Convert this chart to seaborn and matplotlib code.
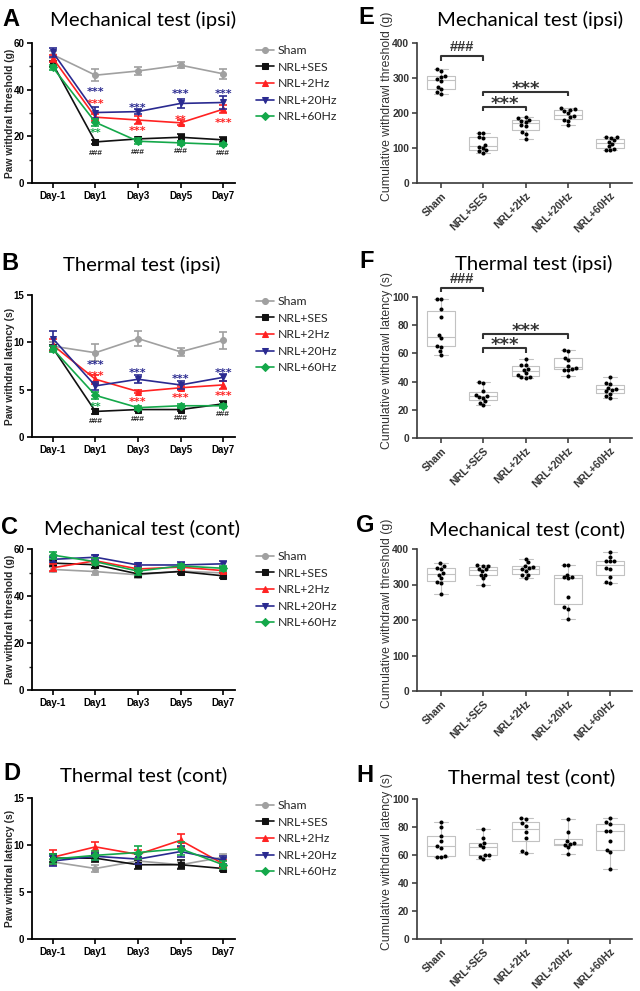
import numpy as np
import pandas as pd
import matplotlib
matplotlib.use("Agg")
import matplotlib.pyplot as plt
import seaborn as sns
from matplotlib.ticker import MultipleLocator

sns.set_style("ticks")
plt.rcParams['font.family'] = ['Liberation Sans', 'DejaVu Sans']

days = ["Day-1", "Day1", "Day3", "Day5", "Day7"]
groups = ["Sham", "NRL+SES", "NRL+2Hz", "NRL+20Hz", "NRL+60Hz"]
colors = ["#a0a0a0", "#111111", "#ff2222", "#2a2a90", "#14a84a"]
markers = ["o", "s", "^", "v", "D"]

# time course, mean and sem per group (A-D)
mech_ipsi_mean = [[55.0, 46.2, 48.0, 50.5, 46.8],
                  [51.0, 17.6, 18.9, 19.6, 18.5],
                  [53.5, 28.2, 27.0, 25.8, 31.6],
                  [56.0, 30.2, 30.6, 34.1, 34.5],
                  [49.5, 26.0, 17.9, 17.2, 16.5]]
mech_ipsi_sem = [[1.5, 2.6, 1.7, 1.4, 2.2],
                 [1.2, 0.8, 1.0, 1.5, 1.0],
                 [1.5, 1.5, 1.8, 1.0, 1.8],
                 [2.0, 2.2, 1.0, 1.8, 2.8],
                 [1.0, 1.5, 1.2, 0.8, 0.8]]
therm_ipsi_mean = [[9.6, 8.9, 10.4, 9.0, 10.2],
                   [9.4, 2.7, 2.9, 2.9, 3.5],
                   [9.7, 6.1, 4.8, 5.2, 5.5],
                   [10.4, 5.4, 6.1, 5.5, 6.3],
                   [9.3, 4.4, 3.1, 3.3, 3.3]]
therm_ipsi_sem = [[0.4, 0.9, 0.8, 0.45, 0.9],
                  [0.3, 0.3, 0.2, 0.2, 0.3],
                  [0.6, 0.5, 0.2, 0.2, 0.4],
                  [0.8, 0.4, 0.4, 0.4, 0.4],
                  [0.3, 0.4, 0.2, 0.2, 0.2]]
mech_cont_mean = [[51.3, 50.4, 49.0, 50.6, 49.8],
                  [54.0, 53.3, 49.4, 50.4, 48.6],
                  [52.0, 55.0, 51.5, 52.3, 50.8],
                  [55.6, 56.5, 53.2, 53.2, 53.7],
                  [57.4, 54.6, 50.6, 52.8, 51.8]]
mech_cont_sem = [[1.2, 1.5, 1.5, 1.0, 1.2],
                 [1.2, 1.5, 1.5, 1.0, 1.0],
                 [1.5, 1.2, 1.2, 1.0, 1.2],
                 [1.2, 1.0, 1.0, 1.2, 1.2],
                 [1.5, 1.5, 1.5, 1.0, 1.0]]
therm_cont_mean = [[8.2, 7.5, 8.3, 7.9, 8.7],
                   [8.6, 8.6, 7.9, 7.9, 7.5],
                   [8.7, 9.8, 9.0, 10.5, 8.0],
                   [8.3, 8.8, 8.5, 9.3, 8.4],
                   [8.5, 8.9, 9.2, 9.6, 7.9]]
therm_cont_sem = [[0.3, 0.4, 0.3, 0.3, 0.3],
                  [0.4, 0.4, 0.5, 0.5, 0.3],
                  [0.8, 0.5, 0.5, 0.7, 0.4],
                  [0.5, 0.4, 0.5, 0.6, 0.4],
                  [0.5, 0.5, 0.7, 0.7, 0.4]]

# significance marks on time courses: (day index, y, text, group index)
mech_ipsi_marks = [(1, 40.4, "***", 3), (1, 35.3, "***", 2), (1, 22.8, "**", 4), (1, 12.5, "###", 1),
                   (2, 33.9, "***", 3), (2, 23.9, "***", 2), (2, 13.0, "###", 1),
                   (3, 39.8, "***", 3), (3, 28.4, "**", 2), (3, 13.5, "###", 1),
                   (4, 39.8, "***", 3), (4, 27.3, "***", 2), (4, 12.5, "###", 1)]
therm_ipsi_marks = [(1, 8.0, "***", 3), (1, 6.8, "***", 2), (1, 3.6, "**", 4), (1, 1.65, "###", 1),
                    (2, 7.1, "***", 3), (2, 4.1, "***", 2), (2, 1.8, "###", 1),
                    (3, 6.5, "***", 3), (3, 4.5, "***", 2), (3, 2.0, "###", 1),
                    (4, 7.1, "***", 3), (4, 4.7, "***", 2), (4, 2.4, "###", 1)]

# cumulative values per animal (E-H)
E_vals = {"Sham": [326, 321, 305, 303, 296, 290, 275, 268, 260, 254],
          "NRL+SES": [144, 142, 132, 128, 109, 103, 99, 94, 90, 86],
          "NRL+2Hz": [189, 185, 180, 178, 175, 165, 162, 147, 140, 125],
          "NRL+20Hz": [213, 210, 208, 206, 199, 190, 188, 181, 178, 166],
          "NRL+60Hz": [131, 130, 128, 122, 118, 112, 105, 97, 95, 94]}
F_vals = {"Sham": [98.5, 98.3, 91.5, 85.6, 73.0, 70.7, 65.2, 64.8, 61.7, 58.9],
          "NRL+SES": [39.5, 39.2, 33.0, 30.5, 30.0, 29.0, 28.5, 26.0, 25.0, 23.5],
          "NRL+2Hz": [55.8, 52.0, 51.5, 49.0, 48.5, 46.0, 45.0, 43.5, 43.0, 42.5],
          "NRL+20Hz": [62.5, 62.0, 57.0, 55.0, 51.0, 49.5, 49.0, 48.5, 48.0, 44.2],
          "NRL+60Hz": [43.5, 39.0, 38.5, 35.5, 35.0, 34.0, 33.0, 31.5, 30.0, 28.5]}
G_vals = {"Sham": [360, 353, 347, 344, 332, 328, 318, 306, 305, 272],
          "NRL+SES": [354, 353, 352, 345, 344, 337, 328, 326, 317, 300],
          "NRL+2Hz": [372, 362, 353, 350, 346, 344, 338, 328, 326, 319],
          "NRL+20Hz": [356, 355, 328, 322, 320, 317, 265, 237, 231, 202],
          "NRL+60Hz": [392, 377, 367, 366, 365, 346, 343, 322, 306, 305]}
H_vals = {"Sham": [83.3, 80.2, 73.5, 70.0, 66.7, 65.2, 59.5, 58.8, 58.3],
          "NRL+SES": [78.3, 72.0, 68.3, 67.1, 65.5, 60.2, 59.8, 58.5, 57.1],
          "NRL+2Hz": [86.2, 86.0, 82.6, 80.7, 76.2, 71.9, 62.9, 61.7],
          "NRL+20Hz": [85.7, 76.7, 70.0, 68.3, 68.0, 67.5, 65.5, 60.7],
          "NRL+60Hz": [86.2, 83.3, 81.9, 77.5, 77.0, 70.2, 63.6, 61.9, 50.0]}

# brackets: (from, to, y, text)
E_brackets = [(0, 1, 363, "###"), (1, 3, 261, "***"), (1, 2, 218, "***")]
F_brackets = [(0, 1, 106.6, "###"), (1, 3, 73.8, "***"), (1, 2, 63.6, "***")]

W, H = 640, 991
fig = plt.figure(figsize=(6.4, 9.91), dpi=100)


def add_ax(l, t, r, b):
    return fig.add_axes([l / W, 1 - b / H, (r - l) / W, (b - t) / H])


def ftext(x, y, s, **kw):
    fig.text(x / W, 1 - y / H, s, **kw)


def stars(ax, x, y, t, fs, color):
    # asterisk glyph sits high in the em box, so drop the baseline
    ax.annotate(t, (x, y), xytext=(0, -0.6 * fs), textcoords="offset points",
                ha="center", va="baseline", fontsize=fs, fontweight="bold",
                color=color, family="DejaVu Sans", annotation_clip=False)


def line_panel(ax, means, sems, ymax, major, ylabel, marks=None):
    xs = np.arange(len(days))
    for i, g in enumerate(groups):
        sns.lineplot(x=xs, y=means[i], ax=ax, color=colors[i], marker=markers[i],
                     markersize=4.3 if markers[i] != "D" else 3.6,
                     markeredgecolor=colors[i], linewidth=1.2, label=g)
        ax.errorbar(xs, means[i], yerr=sems[i], fmt="none", ecolor=colors[i],
                    elinewidth=1.2, capsize=2.6, capthick=1.2)
    ax.set_xlim(-0.49, 4.28)
    ax.set_ylim(0, ymax)
    ax.set_xticks(xs)
    ax.set_xticklabels(days)
    ax.yaxis.set_major_locator(MultipleLocator(major))
    if major == 20:
        ax.yaxis.set_minor_locator(MultipleLocator(major / 2))
    for s in ["top", "right"]:
        ax.spines[s].set_visible(False)
    for s in ["left", "bottom"]:
        ax.spines[s].set_linewidth(1.3)
        ax.spines[s].set_color("black")
    ax.tick_params(axis="both", which="major", direction="out", length=3.5, width=1.2,
                   labelsize=7, pad=2, colors="black")
    ax.tick_params(axis="y", which="minor", direction="out", length=2.2, width=1.0)
    for lab in ax.get_xticklabels() + ax.get_yticklabels():
        lab.set_fontweight("bold")
    ax.set_xlabel("")
    ax.set_ylabel(ylabel, fontsize=7.4, fontweight="bold")
    ax.yaxis.set_label_coords(-0.085, 0.5)
    if marks:
        for d, y, t, gi in marks:
            if t == "###":
                ax.text(d, y, t, ha="center", va="center", fontsize=6,
                        color="#222222", fontweight="bold")
            else:
                stars(ax, d, y, t, 8, colors[gi])
    h, l = ax.get_legend_handles_labels()
    return h, l


def box_panel(ax, vals, ymax, ylabel, brackets=None):
    rows = [(g, v) for g in groups for v in vals[g]]
    df = pd.DataFrame(rows, columns=["group", "value"])
    sns.boxplot(data=df, x="group", y="value", order=groups, ax=ax, whis=(0, 100),
                width=0.66, fill=False, color="#c2c2c2", linewidth=0.8, showfliers=False)
    sns.swarmplot(data=df, x="group", y="value", order=groups, ax=ax, color="black",
                  size=2.9)
    ax.set_xlim(-0.57, 4.52)
    ax.set_ylim(0, ymax)
    ax.yaxis.set_major_locator(MultipleLocator(ymax / 4 if ymax == 400 else 20))
    for s in ["top", "right"]:
        ax.spines[s].set_visible(False)
    for s in ["left", "bottom"]:
        ax.spines[s].set_linewidth(1.2)
        ax.spines[s].set_color("#3a3a3a")
    ax.tick_params(axis="both", direction="out", length=3.5, width=1.1, labelsize=7.4,
                   pad=2, colors="#333333")
    ax.set_xticks(range(len(groups)))
    ax.set_xticklabels(groups, rotation=45, ha="right", rotation_mode="anchor",
                       fontsize=7.6, fontweight="bold")
    for lab in ax.get_yticklabels():
        lab.set_fontweight("bold")
    ax.set_xlabel("")
    ax.set_ylabel(ylabel, fontsize=8.8, color="#333333")
    ax.yaxis.set_label_coords(-0.11, 0.55)
    if brackets:
        drop = ymax * 0.033
        for a, b, y, t in brackets:
            ax.plot([a, a, b, b], [y - drop, y, y, y - drop], color="#333333", lw=1.5,
                    clip_on=False, solid_capstyle="butt")
            if t == "###":
                ax.text((a + b) / 2, y + ymax * 0.012, t, ha="center", va="bottom",
                        fontsize=10.5, fontweight="bold", color="#333333", clip_on=False)
            else:
                ax.annotate(t, ((a + b) / 2, y), xytext=(0, -1.5), textcoords="offset points",
                            ha="center", va="baseline", fontsize=13, fontweight="bold",
                            color="#333333", family="DejaVu Sans", annotation_clip=False)


axA = add_ax(32, 43, 235, 183)
axB = add_ax(32, 295, 235, 437)
axC = add_ax(32, 549, 235, 690)
axD = add_ax(32, 798, 235, 939)
axE = add_ax(417, 43, 632, 183)
axF = add_ax(417, 297, 632, 438)
axG = add_ax(417, 549, 632, 691)
axH = add_ax(417, 799, 632, 939)

panels = [
    (axA, mech_ipsi_mean, mech_ipsi_sem, 60, 20, "Paw withdral threshold (g)", mech_ipsi_marks, 45),
    (axB, therm_ipsi_mean, therm_ipsi_sem, 15, 5, "Paw withdral latency (s)", therm_ipsi_marks, 296),
    (axC, mech_cont_mean, mech_cont_sem, 60, 20, "Paw withdral threshold (g)", None, 551),
    (axD, therm_cont_mean, therm_cont_sem, 15, 5, "Paw withdral latency (s)", None, 800),
]
for ax, m, s, ymax, major, yl, marks, legtop in panels:
    h, l = line_panel(ax, m, s, ymax, major, yl, marks)
    ax.legend(h, l, loc="upper left", bbox_to_anchor=(256 / W, 1 - legtop / H),
              bbox_transform=fig.transFigure, frameon=False,
              handlelength=1.45, handletextpad=0.3, labelspacing=0.46,
              borderpad=0, borderaxespad=0, prop={"family": "Lato", "size": 8.8})

box_panel(axE, E_vals, 400, "Cumulative withdrawl threshold (g)", E_brackets)
box_panel(axF, F_vals, 100, "Cumulative withdrawl latency (s)", F_brackets)
box_panel(axG, G_vals, 400, "Cumulative withdrawl threshold (g)")
box_panel(axH, H_vals, 100, "Cumulative withdrawl latency (s)")

titles = [("Mechanical test (ipsi)", 143, 20), ("Thermal test (ipsi)", 142, 265),
          ("Mechanical test (cont)", 142, 528), ("Thermal test (cont)", 144, 775),
          ("Mechanical test (ipsi)", 530, 20), ("Thermal test (ipsi)", 534, 264),
          ("Mechanical test (cont)", 527, 529), ("Thermal test (cont)", 532, 777)]
for t, x, y in titles:
    ftext(x, y, t, ha="center", va="center", fontsize=14.6, family="Lato", color="black")

letters = [("A", 11, 19), ("B", 10, 263), ("C", 10, 527), ("D", 12, 773),
           ("E", 366, 18), ("F", 367, 262), ("G", 365, 526), ("H", 365, 775)]
for t, x, y in letters:
    ftext(x, y, t, ha="center", va="center", fontsize=17, fontweight="bold", color="black")

fig.savefig("out.png", dpi=100, facecolor="white")
